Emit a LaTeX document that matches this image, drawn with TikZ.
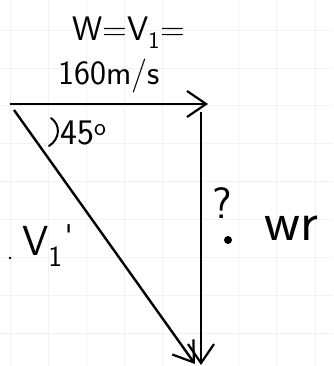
\documentclass[tikz,border=0pt]{standalone}
\usetikzlibrary{arrows.meta}
\begin{document}
\begin{tikzpicture}[x=1pt,y=-1pt,
  vec/.style={line width=2.4pt,-{Straight Barb[length=19pt,width=26pt,line width=2.2pt]}},
  gridl/.style={black!5,line width=0.8pt},
  hand/.style={font=\fontsize{34}{36}\selectfont\sffamily,inner sep=0pt,anchor=base west}]
\useasboundingbox (0,0) rectangle (333,366);
\fill[white] (0,0) rectangle (333,366);
% faint graph-paper grid
\foreach \x in {10,48,86,124,162,238,276,315} \draw[gridl] (\x,0) -- (\x,366);
\foreach \y in {30,68,105,143,181,219,257,295,333} \draw[gridl] (0,\y) -- (333,\y);
% points
\coordinate (A) at (10,104);
\coordinate (B) at (208,104);
\coordinate (Vt) at (201,112);
\coordinate (Vb) at (201,365);
\coordinate (Dt) at (14,110);
\coordinate (Db) at (195,364);
% vectors
\draw[vec] (A) -- (B);
\draw[vec] (Vt) -- (Vb);
\draw[vec] (Dt) -- (Db);
% angle mark
\draw[line width=2pt,line cap=round] (51,118) .. controls (61,125) and (60,139) .. (49,146);
% labels
\node[hand] (w) at (72,41) {W=V\textsubscript{1}=};
\node[hand] (sp) at (58,85) {160m/s};
\node[hand,font=\fontsize{36}{38}\selectfont\sffamily] (ang) at (60,145) {45\textsuperscript{o}};
\node[hand,font=\fontsize{42}{44}\selectfont\sffamily] (v1p) at (22,255) {V\textsubscript{1}\textsuperscript{\kern2pt\textquotesingle}};
\node[hand,font=\fontsize{44}{46}\selectfont\sffamily] (q) at (212,218) {?};
\fill (228,240) circle (4pt);
\fill (10,258) circle (1.3pt);
\node[hand,font=\fontsize{56}{58}\selectfont\sffamily] (wr) at (264,240) {wr};
\end{tikzpicture}
\end{document}
